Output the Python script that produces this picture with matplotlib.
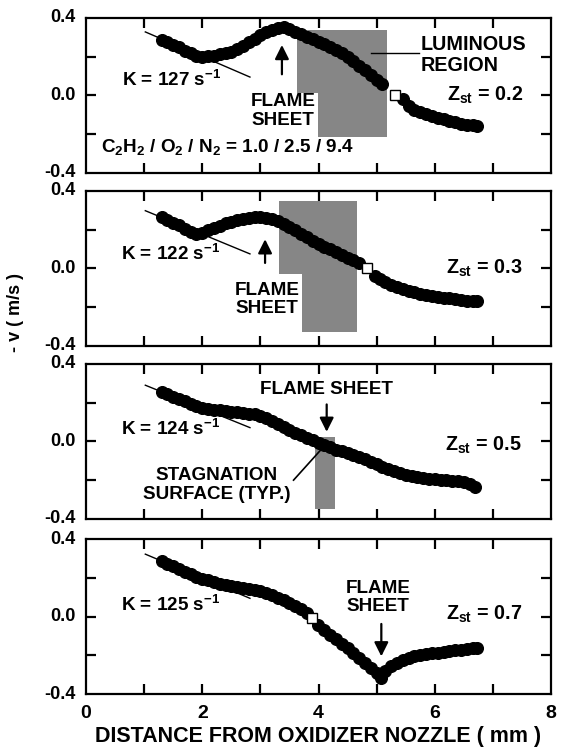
import matplotlib
matplotlib.use("Agg")
import matplotlib.pyplot as plt
from matplotlib.patches import Polygon

plt.rcParams['font.family'] = ['Liberation Sans', 'DejaVu Sans']
plt.rcParams['font.weight'] = 'bold'
plt.rcParams['mathtext.fontset'] = 'custom'
plt.rcParams['mathtext.rm'] = 'Liberation Sans:bold'
plt.rcParams['mathtext.it'] = 'Liberation Sans:bold'
plt.rcParams['mathtext.bf'] = 'Liberation Sans:bold'
plt.rcParams['mathtext.default'] = 'rm'

# ---------------- data ----------------
# Panel 1 (Zst = 0.2)
x1a = [1.3, 1.4, 1.5, 1.6, 1.7, 1.8, 1.9, 2.0, 2.1, 2.2, 2.3, 2.4, 2.5, 2.6, 2.7, 2.8, 2.9, 3.0, 3.1, 3.2,
       3.3, 3.4, 3.5, 3.6, 3.7, 3.8, 3.9, 4.0, 4.1, 4.2, 4.3, 4.4, 4.5, 4.6, 4.7, 4.8, 4.9, 5.0, 5.1]
y1a = [0.288, 0.276, 0.262, 0.248, 0.232, 0.218, 0.206, 0.200, 0.202, 0.206, 0.212, 0.218, 0.226, 0.240,
       0.256, 0.274, 0.292, 0.310, 0.326, 0.340, 0.350, 0.352, 0.342, 0.330, 0.318, 0.304, 0.290, 0.278,
       0.266, 0.252, 0.236, 0.218, 0.198, 0.176, 0.154, 0.130, 0.108, 0.082, 0.058]
x1b = [5.45, 5.55, 5.65, 5.75, 5.85, 5.95, 6.05, 6.15, 6.25, 6.35, 6.45, 6.55, 6.65, 6.72]
y1b = [-0.020, -0.055, -0.075, -0.085, -0.095, -0.105, -0.115, -0.122, -0.130, -0.138, -0.145, -0.150,
       -0.155, -0.160]
stag1 = (5.32, 0.0)
tan1_x = [1.02, 2.82]
tan1_y = [0.328, 0.095]
lum1_x = [3.63, 5.18, 5.18, 3.99, 3.99, 3.63]
lum1_y = [0.338, 0.338, -0.213, -0.213, 0.011, 0.011]

# Panel 2 (Zst = 0.3)
x2a = [1.3, 1.4, 1.5, 1.6, 1.7, 1.8, 1.9, 2.0, 2.1, 2.2, 2.3, 2.4, 2.5, 2.6, 2.7, 2.8, 2.9, 3.0, 3.1, 3.2,
       3.3, 3.4, 3.5, 3.6, 3.7, 3.8, 3.9, 4.0, 4.1, 4.2, 4.3, 4.4, 4.5, 4.6, 4.7]
y2a = [0.264, 0.250, 0.236, 0.222, 0.206, 0.190, 0.180, 0.185, 0.196, 0.208, 0.220, 0.232, 0.242, 0.250,
       0.257, 0.262, 0.265, 0.265, 0.262, 0.256, 0.245, 0.230, 0.214, 0.198, 0.180, 0.162, 0.144, 0.128,
       0.112, 0.098, 0.084, 0.070, 0.056, 0.042, 0.030]
x2b = [4.97, 5.05, 5.15, 5.25, 5.35, 5.45, 5.55, 5.65, 5.75, 5.85, 5.95, 6.05, 6.15, 6.25, 6.35, 6.45,
       6.55, 6.65, 6.72]
y2b = [-0.037, -0.055, -0.070, -0.084, -0.096, -0.106, -0.115, -0.124, -0.131, -0.137, -0.142, -0.147,
       -0.151, -0.155, -0.159, -0.163, -0.166, -0.168, -0.170]
stag2 = (4.83, 0.0)
tan2_x = [1.02, 2.82]
tan2_y = [0.298, 0.075]
lum2_x = [3.32, 4.66, 4.66, 3.72, 3.72, 3.32]
lum2_y = [0.35, 0.35, -0.33, -0.33, -0.028, -0.028]

# Panel 3 (Zst = 0.5)
x3a = [1.3, 1.4, 1.5, 1.6, 1.7, 1.8, 1.9, 2.0, 2.1, 2.2, 2.3, 2.4, 2.5, 2.6, 2.7, 2.8, 2.9, 3.0, 3.1, 3.2,
       3.3, 3.4, 3.5, 3.6, 3.7, 3.8, 3.9, 4.0, 4.1, 4.2, 4.3, 4.4, 4.5, 4.6, 4.7, 4.8, 4.9, 5.0, 5.1, 5.2,
       5.3, 5.4, 5.5, 5.6, 5.7, 5.8, 5.9, 6.0, 6.1, 6.2, 6.3, 6.4, 6.5, 6.6, 6.7]
y3a = [0.255, 0.243, 0.231, 0.219, 0.206, 0.194, 0.182, 0.172, 0.167, 0.163, 0.160, 0.157, 0.154, 0.151,
       0.147, 0.143, 0.139, 0.133, 0.122, 0.106, 0.089, 0.073, 0.058, 0.044, 0.031, 0.018, 0.006, -0.006,
       -0.018, -0.030, -0.042, -0.052, -0.062, -0.071, -0.081, -0.092, -0.104, -0.117, -0.130, -0.143,
       -0.155, -0.165, -0.173, -0.180, -0.185, -0.189, -0.192, -0.195, -0.198, -0.200, -0.202, -0.205,
       -0.210, -0.220, -0.233]
tan3_x = [1.02, 2.82]
tan3_y = [0.29, 0.071]
lum3_x = [3.94, 4.28, 4.28, 3.94]
lum3_y = [0.023, 0.023, -0.347, -0.347]

# Panel 4 (Zst = 0.7)
x4a = [1.3, 1.4, 1.5, 1.6, 1.7, 1.8, 1.9, 2.0, 2.1, 2.2, 2.3, 2.4, 2.5, 2.6, 2.7, 2.8, 2.9, 3.0, 3.1, 3.2,
       3.3, 3.4, 3.5, 3.6, 3.7, 3.8]
y4a = [0.287, 0.273, 0.259, 0.245, 0.231, 0.217, 0.204, 0.194, 0.186, 0.178, 0.170, 0.163, 0.157, 0.151,
       0.146, 0.140, 0.136, 0.131, 0.124, 0.112, 0.098, 0.084, 0.070, 0.054, 0.037, 0.019]
x4b = [3.99, 4.1, 4.2, 4.3, 4.4, 4.5, 4.6, 4.7, 4.8, 4.9, 5.0, 5.08, 5.15, 5.25, 5.35, 5.45, 5.55, 5.65,
       5.75, 5.85, 5.95, 6.05, 6.15, 6.25, 6.35, 6.45, 6.55, 6.65, 6.72]
y4b = [-0.042, -0.070, -0.094, -0.117, -0.140, -0.163, -0.188, -0.215, -0.242, -0.268, -0.290, -0.318,
       -0.282, -0.256, -0.238, -0.225, -0.214, -0.206, -0.200, -0.195, -0.190, -0.186, -0.182, -0.178,
       -0.175, -0.172, -0.168, -0.165, -0.162]
stag4 = (3.88, -0.007)
tan4_x = [1.02, 2.82]
tan4_y = [0.322, 0.094]

K_values = ["127", "122", "124", "125"]
Zst_values = ["0.2", "0.3", "0.5", "0.7"]
xticks_major = [0, 2, 4, 6, 8]
yticks_major = [-0.4, 0.0, 0.4]

# ---------------- figure ----------------
fig = plt.figure(figsize=(5.63, 7.52), dpi=100)
L, W, H = 0.1528, 0.826, 0.2061
bottoms = [0.770, 0.540, 0.310, 0.0771]
axes = [fig.add_axes([L, b, W, H]) for b in bottoms]

GRAY = '#868686'
MS = 8.4
FS = 13.6
ARROW = dict(arrowstyle='-|>', lw=1.6, color='k', mutation_scale=21)

for i, ax in enumerate(axes):
    ax.set_xlim(0, 8)
    ax.set_ylim(-0.4, 0.4)
    ax.set_xticks([1, 2, 3, 4, 5, 6, 7])
    ax.set_yticks([-0.2, 0.0, 0.2])
    ax.tick_params(which='both', direction='in', top=True, right=True, length=7, width=1.6,
                   labelbottom=False, labelleft=False)
    for s in ax.spines.values():
        s.set_linewidth(1.6)
    for yv in yticks_major:
        ax.text(-0.022, yv, f"{yv:.1f}", transform=ax.get_yaxis_transform(), ha='right', va='center',
                fontsize=13, fontweight='bold')

# panel 1
ax = axes[0]
ax.add_patch(Polygon(list(zip(lum1_x, lum1_y)), closed=True, facecolor=GRAY, edgecolor='none', zorder=1))
ax.plot(tan1_x, tan1_y, color='k', lw=1.0, zorder=2)
ax.plot(x1a, y1a, 'o', color='k', ms=MS, zorder=3)
ax.plot(x1b, y1b, 'o', color='k', ms=MS, zorder=3)
ax.plot([stag1[0]], [stag1[1]], 's', mfc='white', mec='k', mew=1.0, ms=6.5, zorder=4)
ax.text(0.62, 0.08, "K = %s s$^{-1}$" % K_values[0], fontsize=FS, ha='left', va='center')
ax.annotate("", xy=(3.37, 0.275), xytext=(3.37, 0.095), arrowprops=ARROW)
ax.text(3.39, -0.08, "FLAME\nSHEET", fontsize=FS, ha='center', va='center', linespacing=1.1)
ax.plot([4.9, 5.72], [0.22, 0.22], color='k', lw=1.0, zorder=2)
ax.text(5.76, 0.21, "LUMINOUS\nREGION", fontsize=14.2, ha='left', va='center', linespacing=1.1)
ax.text(7.52, 0.0, "Z$_{st}$ = %s" % Zst_values[0], fontsize=14.2, ha='right', va='center')
ax.text(0.26, -0.265, "C$_2$H$_2$ / O$_2$ / N$_2$ = 1.0 / 2.5 / 9.4", fontsize=FS, ha='left', va='center')

# panel 2
ax = axes[1]
ax.add_patch(Polygon(list(zip(lum2_x, lum2_y)), closed=True, facecolor=GRAY, edgecolor='none', zorder=1))
ax.plot(tan2_x, tan2_y, color='k', lw=1.0, zorder=2)
ax.plot(x2a, y2a, 'o', color='k', ms=MS, zorder=3)
ax.plot(x2b, y2b, 'o', color='k', ms=MS, zorder=3)
ax.plot([stag2[0]], [stag2[1]], 's', mfc='white', mec='k', mew=1.0, ms=6.5, zorder=4)
ax.text(0.60, 0.075, "K = %s s$^{-1}$" % K_values[1], fontsize=FS, ha='left', va='center')
ax.annotate("", xy=(3.08, 0.165), xytext=(3.08, 0.014), arrowprops=ARROW)
ax.text(3.11, -0.16, "FLAME\nSHEET", fontsize=FS, ha='center', va='center', linespacing=1.1)
ax.text(7.5, 0.0, "Z$_{st}$ = %s" % Zst_values[1], fontsize=14.2, ha='right', va='center')

# panel 3
ax = axes[2]
ax.add_patch(Polygon(list(zip(lum3_x, lum3_y)), closed=True, facecolor=GRAY, edgecolor='none', zorder=1))
ax.plot(tan3_x, tan3_y, color='k', lw=1.0, zorder=2)
ax.plot(x3a, y3a, 'o', color='k', ms=MS, zorder=3)
ax.text(0.60, 0.066, "K = %s s$^{-1}$" % K_values[2], fontsize=FS, ha='left', va='center')
ax.text(4.14, 0.27, "FLAME SHEET", fontsize=FS, ha='center', va='center')
ax.annotate("", xy=(4.14, 0.035), xytext=(4.14, 0.205), arrowprops=ARROW)
ax.text(2.25, -0.225, "STAGNATION\nSURFACE (TYP.)", fontsize=FS, ha='center', va='center', linespacing=1.1)
ax.plot([3.57, 4.11], [-0.2, -0.02], color='k', lw=1.2, zorder=4)
ax.text(7.5, -0.02, "Z$_{st}$ = %s" % Zst_values[2], fontsize=14.2, ha='right', va='center')

# panel 4
ax = axes[3]
ax.plot(tan4_x, tan4_y, color='k', lw=1.0, zorder=2)
ax.plot(x4a, y4a, 'o', color='k', ms=MS, zorder=3)
ax.plot(x4b, y4b, 'o', color='k', ms=MS, zorder=3)
ax.plot([stag4[0]], [stag4[1]], 's', mfc='white', mec='k', mew=1.0, ms=6.5, zorder=4)
ax.text(0.60, 0.062, "K = %s s$^{-1}$" % K_values[3], fontsize=FS, ha='left', va='center')
ax.text(5.03, 0.10, "FLAME\nSHEET", fontsize=FS, ha='center', va='center', linespacing=1.1)
ax.annotate("", xy=(5.08, -0.22), xytext=(5.08, -0.024), arrowprops=ARROW)
ax.text(7.5, 0.01, "Z$_{st}$ = %s" % Zst_values[3], fontsize=14.2, ha='right', va='center')
for xv in xticks_major:
    ax.text(xv, -0.455, f"{xv}", transform=ax.transData, ha='center', va='top', fontsize=14,
            fontweight='bold', clip_on=False)
ax.set_xlabel("DISTANCE FROM OXIDIZER NOZZLE ( mm )", fontsize=15.5, fontweight='bold', labelpad=23)

fig.text(0.028, 0.585, "- v ( m/s )", rotation=90, ha='center', va='center', fontsize=13, fontweight='bold')

fig.savefig("out.png", dpi=100)
